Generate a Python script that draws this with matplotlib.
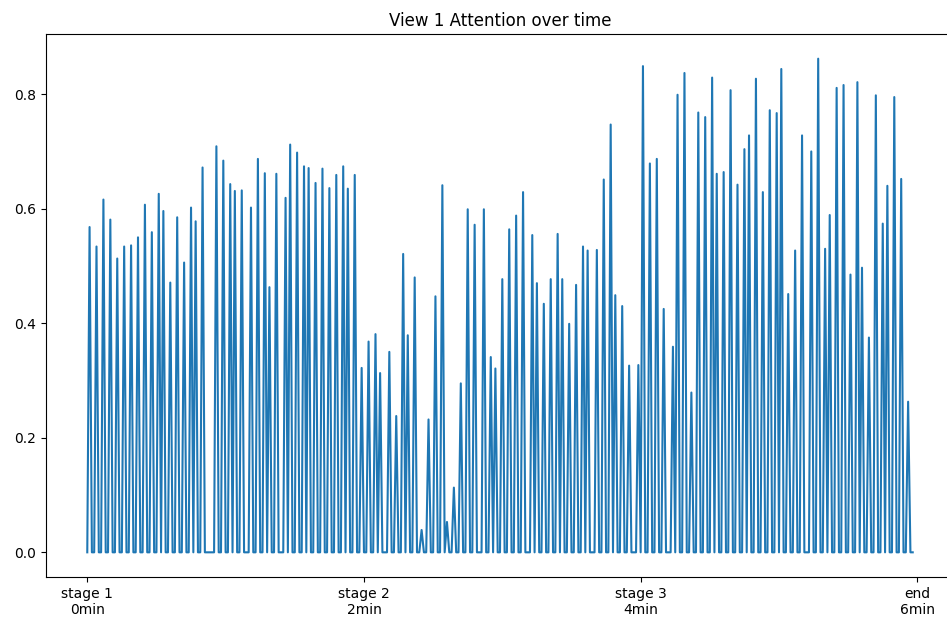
import numpy as np
from matplotlib import pyplot as plt

# seconds at which an attention value was recorded (all other seconds are 0)
spike_times = [1, 4, 7, 10, 13, 16, 19, 22, 25, 28, 31, 33, 36, 39, 42, 45, 47, 50,
               56, 59, 62, 64, 67, 71, 74, 77, 79, 82, 86, 88, 91, 94, 96, 99, 102, 105,
               108, 111, 113, 116, 119, 122, 125, 127, 131, 134, 137, 139, 142, 145, 148,
               151, 154, 156, 159, 162, 165, 168, 172, 175, 177, 180, 183, 186, 189, 193,
               195, 198, 201, 204, 206, 209, 212, 215, 217, 221, 224, 227, 229, 232, 235,
               239, 241, 244, 247, 250, 254, 256, 259, 262, 265, 268, 271, 273, 276, 279,
               282, 285, 287, 290, 293, 296, 299, 301, 304, 307, 310, 314, 317, 320, 322,
               325, 328, 331, 334, 336, 339, 342, 345, 347, 350, 353, 356]
spike_values = [0.568, 0.534, 0.616, 0.581, 0.513, 0.534, 0.536, 0.550, 0.607, 0.559,
                0.626, 0.596, 0.471, 0.585, 0.506, 0.602, 0.578, 0.672,
                0.709, 0.684, 0.643, 0.631, 0.632, 0.602, 0.687, 0.662, 0.463, 0.661,
                0.619, 0.712, 0.698, 0.674, 0.671, 0.645, 0.670, 0.636, 0.659, 0.674,
                0.635, 0.659, 0.322, 0.368, 0.381, 0.313, 0.350, 0.238, 0.521, 0.379,
                0.480, 0.039, 0.232, 0.447, 0.641, 0.053, 0.113, 0.295, 0.599, 0.572,
                0.599, 0.341, 0.321, 0.477, 0.564, 0.588, 0.629, 0.554, 0.470, 0.434,
                0.477, 0.556, 0.477, 0.399, 0.467, 0.534, 0.527, 0.528, 0.651, 0.747,
                0.449, 0.430, 0.326, 0.327, 0.849, 0.679, 0.687, 0.425, 0.359, 0.799,
                0.837, 0.279, 0.768, 0.760, 0.829, 0.661, 0.664, 0.807, 0.642, 0.704,
                0.728, 0.827, 0.629, 0.772, 0.767, 0.844, 0.451, 0.527, 0.728, 0.700,
                0.862, 0.530, 0.589, 0.811, 0.816, 0.485, 0.821, 0.497, 0.375, 0.798,
                0.574, 0.640, 0.795, 0.652, 0.263]
duration = 358  # last second of the recording

tick_pos = [0, 120, 240, 360]
tick_labels = ['stage 1\n0min', 'stage 2\n2min', 'stage 3\n4min', 'end\n6min']

# build the per-second series
t = np.arange(0, duration + 1)
att = np.zeros(len(t))
att[spike_times] = spike_values

fig = plt.figure(figsize=(9.47, 6.23), dpi=100)
ax = fig.add_axes([46 / 947, 46 / 623, 908 / 947, 543 / 623])
ax.plot(t, att)
ax.set_xticks(tick_pos)
ax.set_xticklabels(tick_labels)
ax.set_title('View 1 Attention over time')

fig.savefig('out.png', dpi=100)
